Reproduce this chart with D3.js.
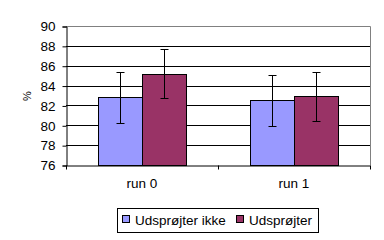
<!DOCTYPE html>
<html lang="en">
	<head>
		<meta charset="utf-8" />
		<title>Udsprøjter</title>
		<script type="text/javascript" src="https://cdn.jsdelivr.net/npm/d3@7"></script>
		<style type="text/css">
			body { margin: 0; background: #fff; }
			text { font-family: "Liberation Sans", Arial, sans-serif; fill: #000; }
		</style>
	</head>
	<body>
		<script type="text/javascript">
			// data
			var categories = ["run 0", "run 1"];
			var seriesNames = ["Udsprøjter ikke", "Udsprøjter"];
			var seriesColors = ["#9999ff", "#993366"];
			var values = [[82.8, 82.5], [85.2, 82.9]];   // [series][category]
			var errors = [[2.6, 2.6], [2.5, 2.45]];
			var yTicks = [76, 78, 80, 82, 84, 86, 88, 90];

			var w = 384;
			var h = 240;
			var padL = 66, padR = 370, padT = 26, padB = 165;

			var svg = d3.select("body")
				.append("svg")
				.attr("width", w)
				.attr("height", h);

			var xScale = d3.scaleBand()
				.domain(categories)
				.range([padL, padR]);
			// two bars of ~44px each centred in the category
			var xInner = d3.scaleBand()
				.domain(seriesNames)
				.range([0, xScale.bandwidth()])
				.paddingInner(0)
				.paddingOuter((xScale.bandwidth() - 88) / 2 / 44);

			var yScale = d3.scaleLinear()
				.domain([76, 90])
				.range([padB, padT]);

			// gridlines
			svg.append("g")
				.selectAll("line")
				.data(yTicks.slice(1, -1))
				.enter()
				.append("line")
				.attr("x1", padL)
				.attr("x2", padR)
				.attr("y1", function(d) { return Math.round(yScale(d)) + 0.5; })
				.attr("y2", function(d) { return Math.round(yScale(d)) + 0.5; })
				.attr("stroke", "#000");

			// top and right border of the plot area
			svg.append("path")
				.attr("d", "M" + padL + "," + (padT + 0.5) + "H" + (padR + 0.5) + "V" + padB)
				.attr("fill", "none")
				.attr("stroke", "#808080");

			function rows(s, i) {
				return categories.map(function(c, j) {
					return { s: s, i: i, c: c, v: values[i][j], e: errors[i][j] };
				});
			}

			// bars
			var groups = svg.append("g")
				.selectAll("g")
				.data(seriesNames)
				.enter()
				.append("g");

			groups.selectAll("rect")
				.data(rows)
				.enter()
				.append("rect")
				.attr("x", function(d) { return Math.round(xScale(d.c) + xInner(d.s)) + 0.5; })
				.attr("y", function(d) { return Math.round(yScale(d.v)) + 0.5; })
				.attr("width", Math.round(xInner.bandwidth()))
				.attr("height", function(d) { return padB - Math.round(yScale(d.v)); })
				.attr("fill", function(d) { return seriesColors[d.i]; })
				.attr("stroke", "#000");

			// error bars
			var err = groups.selectAll("g.err")
				.data(rows)
				.enter()
				.append("g")
				.attr("class", "err")
				.attr("stroke", "#000");
			function cx(d) { return Math.round(xScale(d.c) + xInner(d.s) + xInner.bandwidth() / 2) + 0.5; }
			function yHi(d) { return Math.round(yScale(d.v + d.e)) + 0.5; }
			function yLo(d) { return Math.round(yScale(d.v - d.e)) + 0.5; }
			err.append("line")
				.attr("x1", cx).attr("x2", cx)
				.attr("y1", yHi)
				.attr("y2", yLo);
			err.append("line")
				.attr("x1", function(d) { return cx(d) - 4; })
				.attr("x2", function(d) { return cx(d) + 4; })
				.attr("y1", yHi)
				.attr("y2", yHi);
			err.append("line")
				.attr("x1", function(d) { return cx(d) - 4; })
				.attr("x2", function(d) { return cx(d) + 4; })
				.attr("y1", yLo)
				.attr("y2", yLo);

			// Y axis
			var yAxis = d3.axisLeft(yScale)
				.tickValues(yTicks)
				.tickSize(4)
				.tickPadding(7);
			var gy = svg.append("g")
				.attr("transform", "translate(" + (padL + 0.5) + ",0.5)")
				.call(yAxis);
			gy.select(".domain").attr("stroke", "#000");
			gy.selectAll(".tick line").attr("stroke", "#000");
			gy.selectAll("text")
				.attr("font-size", 13.5)
				.attr("font-family", "Liberation Sans, Arial, sans-serif")
				.attr("fill", "#000");

			// X axis
			var xAxis = d3.axisBottom(xScale)
				.tickSize(0)
				.tickPadding(13);
			var gx = svg.append("g")
				.attr("transform", "translate(0," + (padB + 0.5) + ")")
				.call(xAxis);
			gx.select(".domain").attr("stroke", "#000");
			gx.selectAll("text")
				.attr("font-size", 13.5)
				.attr("font-family", "Liberation Sans, Arial, sans-serif")
				.attr("fill", "#000");
			// category boundary ticks
			gx.selectAll("line.sep")
				.data([0, 1, 2])
				.enter()
				.append("line")
				.attr("class", "sep")
				.attr("x1", function(d) { return Math.round(padL + d * xScale.step()) + 0.5; })
				.attr("x2", function(d) { return Math.round(padL + d * xScale.step()) + 0.5; })
				.attr("y1", 0)
				.attr("y2", 4)
				.attr("stroke", "#000");

			// Y label
			svg.append("text")
				.attr("transform", "translate(31,96) rotate(-90)")
				.attr("text-anchor", "middle")
				.attr("font-size", 11)
				.text("%");

			// legend
			var lg = svg.append("g");
			lg.append("rect")
				.attr("x", 117.5)
				.attr("y", 208.5)
				.attr("width", 201)
				.attr("height", 24)
				.attr("fill", "#fff")
				.attr("stroke", "#000");
			var legendX = [122, 236];
			var items = lg.selectAll("g.item")
				.data(seriesNames)
				.enter()
				.append("g")
				.attr("class", "item")
				.attr("transform", function(d, i) { return "translate(" + legendX[i] + ",215)"; });
			items.append("rect")
				.attr("x", 0.5)
				.attr("y", 0.5)
				.attr("width", 7)
				.attr("height", 7)
				.attr("fill", function(d, i) { return seriesColors[i]; })
				.attr("stroke", "#000");
			items.append("text")
				.attr("x", 13)
				.attr("y", 10)
				.attr("font-size", 13.5)
				.text(function(d) { return d; });
		</script>
	</body>
</html>
